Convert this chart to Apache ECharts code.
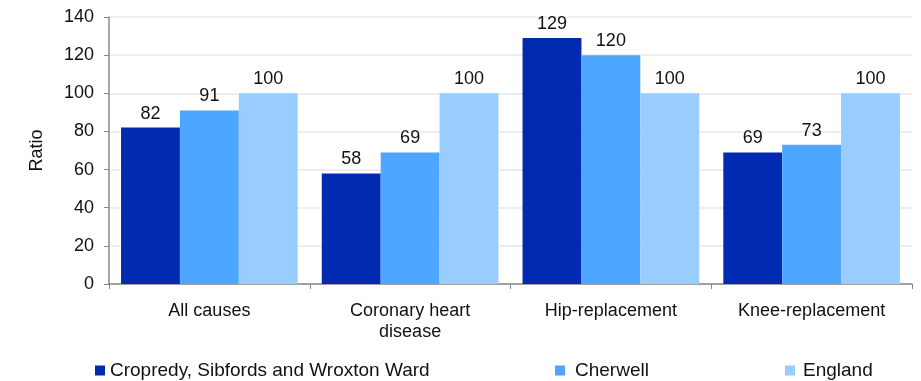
<!DOCTYPE html>
<html><head><meta charset="utf-8">
<script src="https://cdn.jsdelivr.net/npm/echarts@6/dist/echarts.min.js"></script>
<style>html,body{margin:0;padding:0;background:#fff}#c{width:921px;height:381px}</style>
</head><body><div id="c"></div>
<script>
const categories = ["All causes", "Coronary heart\ndisease", "Hip-replacement", "Knee-replacement"];
const seriesNames = ["Cropredy, Sibfords and Wroxton Ward", "Cherwell", "England"];
const wardValues = [82, 58, 129, 69];
const cherwellValues = [91, 69, 120, 73];
const englandValues = [100, 100, 100, 100];
const colors = ["#002BB1", "#4DA6FF", "#99CCFF"];
const FONT = "Liberation Sans, Arial, sans-serif";
const FS = 18;
const allValues = [wardValues, cherwellValues, englandValues];
const chart = echarts.init(document.getElementById('c'));
const legendLefts = [95, 555, 785];
const legendPads = [0, 5, 3];
chart.setOption({
  animation: false,
  textStyle: {fontFamily: FONT},
  grid: {left: 109, right: 9, top: 17, bottom: 97},
  xAxis: {
    type: 'category', data: categories,
    axisLine: {lineStyle: {color: '#888', width: 1.5}},
    axisTick: {show: true, length: 5, lineStyle: {color: '#888'}},
    axisLabel: {color: '#111', fontSize: FS, fontFamily: FONT, margin: 17, lineHeight: 21}
  },
  yAxis: {
    type: 'value', min: 0, max: 140, interval: 20,
    name: 'Ratio', nameLocation: 'middle', nameGap: 63, nameRotate: 90,
    nameTextStyle: {color: '#111', fontSize: FS, fontFamily: FONT},
    axisLine: {show: true, lineStyle: {color: '#888', width: 1.5}},
    axisTick: {show: true, length: 5, lineStyle: {color: '#888'}},
    axisLabel: {color: '#111', fontSize: FS, fontFamily: FONT, margin: 15},
    splitLine: {lineStyle: {color: '#e8e8e8', width: 1.5}}
  },
  legend: seriesNames.map((n, i) => ({
    data: [n], left: legendLefts[i], top: 361, padding: 0,
    itemWidth: 10, itemHeight: 10, itemGap: 0, icon: 'rect',
    textStyle: {color: '#111', fontSize: 19, fontFamily: FONT, padding: [0, 0, 0, legendPads[i]]}
  })),
  series: seriesNames.map((n, i) => ({
    name: n, type: 'bar', data: allValues[i],
    itemStyle: {color: colors[i]},
    barGap: '0%', barCategoryGap: '12%',
    label: {show: true, position: 'top', color: '#111', fontSize: FS, fontFamily: FONT, distance: 5}
  }))
});
</script></body></html>
